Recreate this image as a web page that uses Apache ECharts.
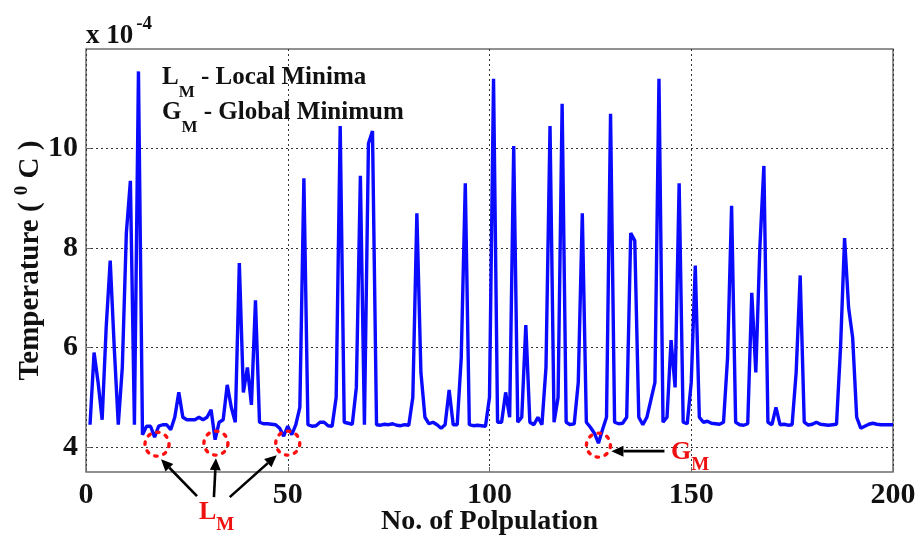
<!DOCTYPE html>
<html>
<head>
<meta charset="utf-8">
<script src="https://cdn.jsdelivr.net/npm/echarts@6/dist/echarts.min.js"></script>
<style>
  html, body { margin: 0; padding: 0; background: #ffffff; }
  #chart { width: 915px; height: 537px; }
</style>
</head>
<body>
<div id="chart"></div>
<script>
// Best temperature found for each population member (units of 1e-4 °C), members 1..200
const temperature = [
  4.45, 5.9, 5.3, 4.55, 6.4, 7.75, 6.0, 4.45, 5.6, 8.3,
  9.35, 4.45, 11.55, 4.25, 4.42, 4.42, 4.2, 4.42, 4.45, 4.45,
  4.35, 4.6, 5.1, 4.6, 4.55, 4.55, 4.55, 4.6, 4.55, 4.6,
  4.75, 4.15, 4.5, 4.55, 5.25, 4.8, 4.5, 7.7, 5.1, 5.6,
  4.85, 6.95, 4.5, 4.47, 4.47, 4.46, 4.45, 4.38, 4.22, 4.42,
  4.25, 4.45, 4.8, 9.4, 4.45, 4.42, 4.43, 4.5, 4.5, 4.43,
  4.42, 5.0, 10.45, 4.5, 4.48, 4.46, 5.2, 9.45, 4.45, 10.1,
  10.35, 4.45, 4.44, 4.46, 4.45, 4.47, 4.44, 4.43, 4.45, 4.44,
  5.0, 8.7, 5.5, 4.6, 4.47, 4.5, 4.45, 4.38, 4.45, 5.15,
  4.45, 4.45, 5.8, 9.3, 4.45, 4.43, 4.44, 4.43, 4.42, 5.0,
  11.4, 4.5, 4.5, 5.1, 4.6, 10.05, 4.5, 4.6, 6.45, 4.5,
  4.45, 4.6, 4.45, 5.6, 10.45, 4.5, 5.0, 10.9, 4.5, 4.45,
  4.47, 5.3, 8.7, 4.5, 4.4, 4.28, 4.08, 4.35, 4.6, 10.7,
  4.5, 4.47, 4.48, 4.6, 8.3, 8.15, 4.6, 4.45, 4.6, 4.95,
  5.3, 11.4, 4.5, 4.6, 6.15, 5.2, 9.3, 4.5, 4.47, 5.3,
  7.65, 4.6, 4.5, 4.52, 4.48, 4.47, 4.46, 4.5, 5.8, 8.85,
  4.5, 4.45, 4.44, 4.47, 7.1, 5.5, 8.0, 9.65, 4.5, 4.45,
  4.8, 4.45, 4.46, 4.44, 4.45, 5.5, 7.45, 4.5, 4.44, 4.46,
  4.5, 4.46, 4.45, 4.44, 4.45, 4.46, 6.0, 8.2, 6.8, 6.2,
  4.6, 4.38, 4.42, 4.46, 4.48, 4.46, 4.45, 4.45, 4.45, 4.45
];

// Tick values
const xTicks = [0, 50, 100, 150, 200];
const yTicks = [4, 6, 8, 10];

// Marked minima (population index, temperature)
const localMinima = [[17.6, 4.06], [32.2, 4.08], [50, 4.08]];
const globalMinimum = [127, 4.04];

const FONT = '"Liberation Serif", "Times New Roman", serif';
const INK = '#111111';

const chart = echarts.init(document.getElementById('chart'), null, { renderer: 'canvas' });
const seriesData = temperature.map((v, i) => [i + 1, v]);

chart.setOption({
  animation: false,
  backgroundColor: '#ffffff',
  grid: {
    left: 86, right: 22, top: 49, bottom: 65,
    outerBoundsMode: 'none', containLabel: false,
    show: true, borderColor: '#6e6e6e', borderWidth: 1.5, backgroundColor: '#ffffff'
  },
  xAxis: {
    type: 'value', min: xTicks[0], max: xTicks[xTicks.length - 1], interval: 50,
    name: 'No. of Polpulation', nameLocation: 'middle', nameGap: 36, nameMoveOverlap: false,
    nameTextStyle: { fontFamily: FONT, fontWeight: 'bold', fontSize: 28, color: INK },
    axisLine: { show: false },
    axisTick: { show: true, inside: true, length: 5, lineStyle: { color: '#6e6e6e' } },
    axisLabel: { fontFamily: FONT, fontWeight: 'bold', fontSize: 30, color: INK, margin: 8 },
    splitLine: { show: true, lineStyle: { color: '#333333', type: [2, 3], width: 1 } }
  },
  yAxis: {
    type: 'value', min: 3.5, max: 12,
    name: 'Temperature ( {s|0} C )', nameLocation: 'middle', nameGap: 38, nameMoveOverlap: false,
    nameTextStyle: {
      fontFamily: FONT, fontWeight: 'bold', fontSize: 29, color: INK,
      rich: { s: { fontFamily: FONT, fontWeight: 'bold', fontSize: 19, color: INK, padding: [0, 0, 16, 0] } }
    },
    axisLine: { show: false },
    axisTick: { show: true, inside: true, length: 5, customValues: yTicks, lineStyle: { color: '#6e6e6e' } },
    axisLabel: { fontFamily: FONT, fontWeight: 'bold', fontSize: 30, color: INK, margin: 8, customValues: yTicks },
    splitLine: { show: true, lineStyle: { color: '#333333', type: [2, 3], width: 1 } }
  },
  series: [{
    type: 'line',
    data: seriesData,
    showSymbol: false,
    silent: true,
    lineStyle: { color: '#0a0aff', width: 3.4 },
    z: 3
  }]
});

// Arrow from tail to head (pixel coordinates)
function arrow(tail, head) {
  const dx = head[0] - tail[0], dy = head[1] - tail[1];
  const len = Math.hypot(dx, dy);
  const ux = dx / len, uy = dy / len;
  const hl = 12, hw = 5.5;
  const bx = head[0] - ux * hl, by = head[1] - uy * hl;
  return [
    { type: 'line', z: 20, shape: { x1: tail[0], y1: tail[1], x2: bx, y2: by },
      style: { stroke: '#000000', lineWidth: 2.6 } },
    { type: 'polygon', z: 20, shape: { points: [head, [bx - uy * hw, by + ux * hw], [bx + uy * hw, by - ux * hw]] },
      style: { fill: '#000000' } }
  ];
}

function ring(c) {
  return { type: 'circle', z: 15, shape: { cx: c[0], cy: c[1], r: 12 },
    style: { fill: 'none', stroke: '#ff1010', lineWidth: 3.4, lineDash: [2.5, 6.8], lineCap: 'round' } };
}

const toPx = p => chart.convertToPixel({ gridIndex: 0 }, p);
const lm = localMinima.map(toPx);
const gm = toPx(globalMinimum);

const bold = (size, fill) => ({ fontFamily: FONT, fontWeight: 'bold', fontSize: size, fill: fill });

const graphics = [];
lm.forEach(c => graphics.push(ring(c)));
graphics.push(ring(gm));
graphics.push(...arrow([lm[0][0] + 40, lm[0][1] + 52], [lm[0][0] + 4, lm[0][1] + 15]));
graphics.push(...arrow([lm[1][0] - 2, lm[1][1] + 54], [lm[1][0], lm[1][1] + 15]));
graphics.push(...arrow([lm[2][0] - 58, lm[2][1] + 54], [lm[2][0] - 11, lm[2][1] + 12]));
graphics.push(...arrow([gm[0] + 66, gm[1] + 6], [gm[0] + 13, gm[1] + 6]));

// Red labels for the marked minima
graphics.push({
  type: 'text', z: 20, x: 199, y: 512,
  style: Object.assign({
    text: '{a|L}{b|M}', verticalAlign: 'middle', align: 'left',
    rich: { a: bold(26, '#ee1111'), b: Object.assign(bold(19, '#ee1111'), { padding: [26, 0, 0, 0] }) }
  }, bold(26, '#ee1111'))
});
graphics.push({
  type: 'text', z: 20, x: 671, y: 452,
  style: Object.assign({
    text: '{a|G}{b|M}', verticalAlign: 'middle', align: 'left',
    rich: { a: bold(26, '#ee1111'), b: Object.assign(bold(19, '#ee1111'), { padding: [26, 0, 0, 0] }) }
  }, bold(26, '#ee1111'))
});

// Legend notes inside the plot
graphics.push({
  type: 'text', z: 20, x: 162, y: 78,
  style: Object.assign({
    text: '{a|L}{b|M}{a| - Local Minima}', verticalAlign: 'middle', align: 'left',
    rich: { a: bold(25, INK), b: Object.assign(bold(17, INK), { padding: [30, 0, 0, 0] }) }
  }, bold(25, INK))
});
graphics.push({
  type: 'text', z: 20, x: 162, y: 113,
  style: Object.assign({
    text: '{a|G}{b|M}{a| - Global Minimum}', verticalAlign: 'middle', align: 'left',
    rich: { a: bold(25, INK), b: Object.assign(bold(17, INK), { padding: [30, 0, 0, 0] }) }
  }, bold(25, INK))
});

// Axis multiplier
graphics.push({
  type: 'text', z: 20, x: 86, y: 36,
  style: Object.assign({
    text: '{a|x 10}{b|-4}', verticalAlign: 'middle', align: 'left',
    rich: { a: bold(27, INK), b: Object.assign(bold(19, INK), { padding: [0, 0, 24, 3] }) }
  }, bold(27, INK))
});

chart.setOption({ graphic: graphics });
</script>
</body>
</html>
